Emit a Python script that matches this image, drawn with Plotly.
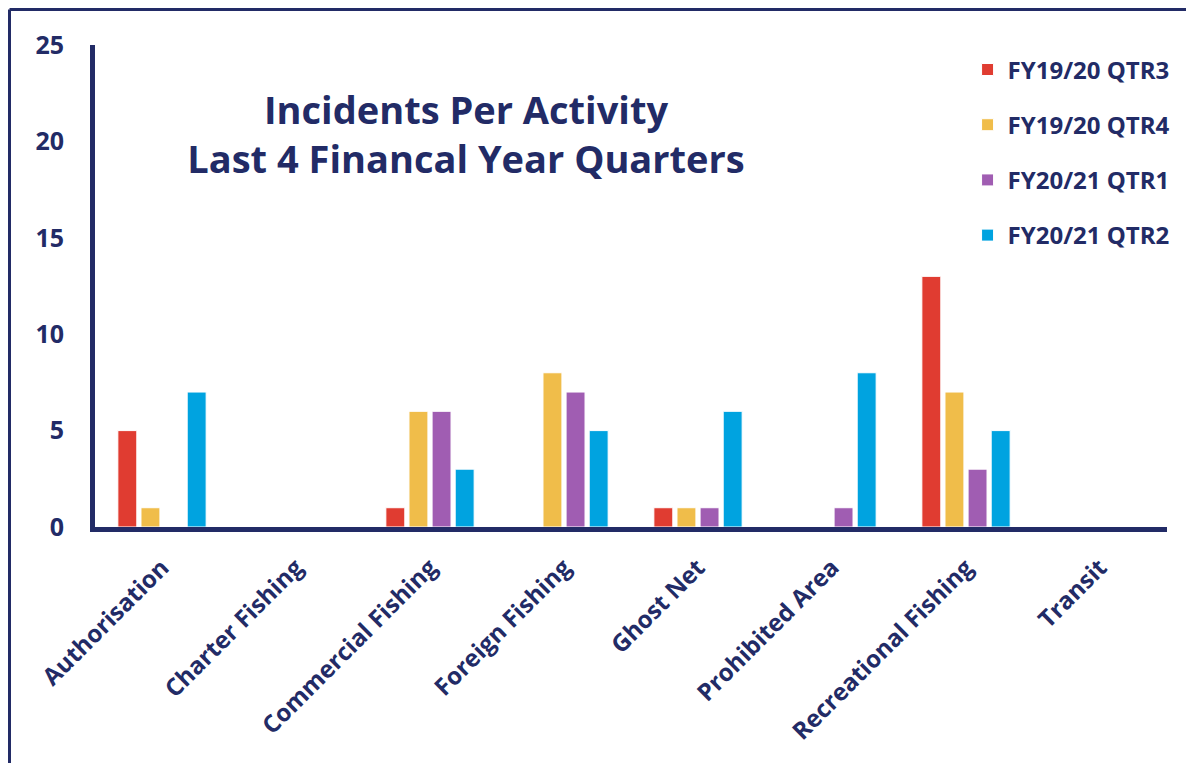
import plotly.graph_objects as go

categories = ["Authorisation", "Charter Fishing", "Commercial Fishing", "Foreign Fishing",
              "Ghost Net", "Prohibited Area", "Recreational Fishing", "Transit"]
series_names = ["FY19/20 QTR3", "FY19/20 QTR4", "FY20/21 QTR1", "FY20/21 QTR2"]
qtr3_1920 = [5, 0, 1, 0, 1, 0, 13, 0]
qtr4_1920 = [1, 0, 6, 8, 1, 0, 7, 0]
qtr1_2021 = [0, 0, 6, 7, 1, 1, 3, 0]
qtr2_2021 = [7, 0, 3, 5, 6, 8, 5, 0]
y_ticks = [0, 5, 10, 15, 20, 25]

colors = ["#e03c31", "#f0bd4a", "#a05db2", "#00a3e0"]
NAVY = "#222b66"
FONT = "Open Sans"

OFF = 8  # page body margin
W, H = 1194, 763
ML, MR, MT, MB = 95 - OFF, 27 + OFF, 45 - OFF, 236 + OFF
PW, PH = W - ML - MR, H - MT - MB

fig = go.Figure()
for i, (name, vals) in enumerate(zip(series_names, [qtr3_1920, qtr4_1920, qtr1_2021, qtr2_2021])):
    fig.add_trace(go.Bar(
        x=categories, y=vals, name=name,
        marker=dict(color=colors[i], line=dict(color="white", width=1)),
        legendgroup=name,
    ))

# border lines (top and left) in paper coords
bx = (9.5 - OFF - ML) / PW
by = (H - MB - (9.5 - OFF)) / PH
fig.add_shape(type="line", xref="paper", yref="paper", x0=bx, x1=bx, y0=by, y1=-2,
              line=dict(color=NAVY, width=3))
fig.add_shape(type="line", xref="paper", yref="paper", x0=bx, x1=2, y0=by, y1=by,
              line=dict(color=NAVY, width=3))

fig.update_layout(
    width=W, height=H,
    margin=dict(l=ML, r=MR, t=MT, b=MB, pad=0),
    paper_bgcolor="white", plot_bgcolor="white",
    barmode="group", bargap=0.31, bargroupgap=0.18,
    font=dict(family=FONT, color=NAVY),
    title=dict(
        text="<b>Incidents Per Activity<br>Last 4 Financal Year Quarters</b>",
        x=(466 - OFF) / W, xanchor="center", y=1 - (124 - OFF) / H, yanchor="top",
        font=dict(size=38, color=NAVY, family=FONT),
    ),
    legend=dict(
        x=1.008, xanchor="right", y=0.995, yanchor="top",
        font=dict(size=24, color=NAVY, family=FONT, weight="bold"),
        traceorder="grouped", tracegroupgap=21,
        bgcolor="rgba(0,0,0,0)", itemwidth=30,
    ),
    xaxis=dict(
        showline=True, linecolor=NAVY, linewidth=5, ticks="", tickangle=-45,
        tickfont=dict(size=24, color=NAVY, family=FONT, weight="bold"),
        showgrid=False, zeroline=False, ticklabelstandoff=12,
    ),
    yaxis=dict(
        range=[0, 25], tickvals=y_ticks, showline=True, linecolor=NAVY, linewidth=5,
        ticks="", showgrid=False, zeroline=False,
        tickfont=dict(size=25, color=NAVY, family=FONT, weight="bold"),
        ticklabelstandoff=21,
    ),
)

fig.write_html("out.html")
